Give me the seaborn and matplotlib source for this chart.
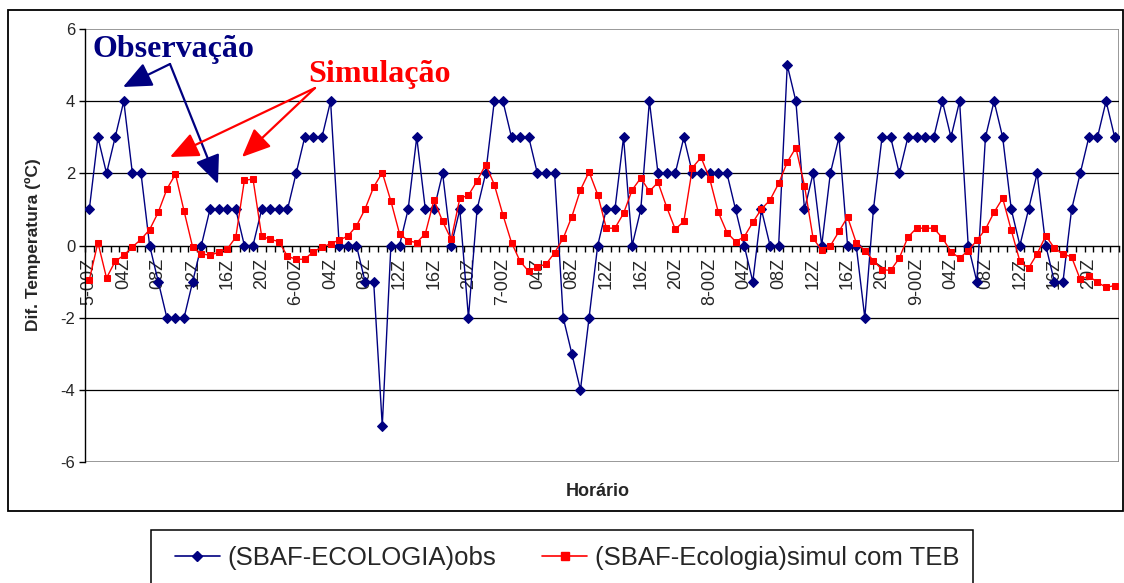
import matplotlib
matplotlib.use('Agg')

import numpy as np
import pandas as pd
import seaborn as sns
import matplotlib.pyplot as plt
from matplotlib.patches import Rectangle
from matplotlib.lines import Line2D

# === Data ===
days = ['5', '6', '7', '8', '9']
label_hours = ['00', '04', '08', '12', '16', '20']

obs = [1, 3, 2, 3, 4, 2, 2, 0, -1, -2, -2, -2, -1, 0, 1, 1, 1, 1, 0, 0, 1, 1, 1, 1,
       2, 3, 3, 3, 4, 0, 0, 0, -1, -1, -5, 0, 0, 1, 3, 1, 1, 2, 0, 1, -2, 1, 2, 4,
       4, 3, 3, 3, 2, 2, 2, -2, -3, -4, -2, 0, 1, 1, 3, 0, 1, 4, 2, 2, 2, 3, 2, 2,
       2, 2, 2, 1, 0, -1, 1, 0, 0, 5, 4, 1, 2, 0, 2, 3, 0, 0, -2, 1, 3, 3, 2, 3,
       3, 3, 3, 4, 3, 4, 0, -1, 3, 4, 3, 1, 0, 1, 2, 0, -1, -1, 1, 2, 3, 3, 4, 3]

sim = [-0.95, 0.08, -0.90, -0.44, -0.27, -0.04, 0.17, 0.44, 0.92, 1.56, 1.98, 0.95,
       -0.05, -0.23, -0.27, -0.19, -0.10, 0.23, 1.81, 1.84, 0.26, 0.17, 0.11, -0.30,
       -0.38, -0.38, -0.17, -0.05, 0.05, 0.15, 0.26, 0.54, 1.01, 1.62, 2.02, 1.23,
       0.33, 0.13, 0.08, 0.33, 1.26, 0.67, 0.17, 1.31, 1.39, 1.79, 2.24, 1.69,
       0.85, 0.08, -0.44, -0.72, -0.59, -0.52, -0.20, 0.20, 0.80, 1.54, 2.04, 1.41,
       0.48, 0.48, 0.89, 1.54, 1.87, 1.50, 1.75, 1.07, 0.45, 0.67, 2.16, 2.44,
       1.85, 0.92, 0.36, 0.11, 0.24, 0.64, 1.01, 1.26, 1.72, 2.31, 2.71, 1.66,
       0.20, -0.13, -0.01, 0.39, 0.79, 0.08, -0.14, -0.42, -0.67, -0.69, -0.35, 0.23,
       0.48, 0.48, 0.48, 0.21, -0.17, -0.35, -0.14, 0.14, 0.45, 0.92, 1.31, 0.42,
       -0.44, -0.63, -0.23, 0.27, -0.07, -0.23, -0.32, -0.94, -0.85, -1.02, -1.16, -1.11]

tick_labels = []
for d in days:
    for h in label_hours:
        tick_labels.append(f'{d}-00Z' if h == '00' else f'{h}Z')

n = len(obs)
x = np.arange(n) + 0.5
df = pd.DataFrame({'x': x, 'obs': obs, 'sim': sim})

NAVY = '#000080'
RED = '#FF0000'
W, H = 1124, 583


def fp(px, py):
    # pixel position (from top-left) -> figure fraction
    return (px / W, 1 - py / H)


sns.set_style('white')
plt.rcParams['font.family'] = ['Liberation Sans', 'DejaVu Sans']

fig = plt.figure(figsize=(W / 100, H / 100), dpi=100)
ax = fig.add_axes([85 / W, 1 - 462 / H, (1119 - 85) / W, (462 - 29) / H])

# outer chart frame and legend box
fig.patches.append(Rectangle(fp(8, 511), (1123 - 8) / W, (511 - 10) / H,
                             transform=fig.transFigure, fill=False,
                             edgecolor='black', linewidth=1.3))
fig.patches.append(Rectangle(fp(151, 590), (973 - 151) / W, (590 - 530) / H,
                             transform=fig.transFigure, fill=False,
                             edgecolor='black', linewidth=1.1))

# gridlines
for yv in [-4, -2, 2, 4]:
    ax.axhline(yv, color='black', linewidth=0.9, zorder=1)
ax.add_patch(Rectangle((0, 0), 1, 1, transform=ax.transAxes, fill=False,
                       edgecolor='#888888', linewidth=1.2, zorder=0.5))

sns.lineplot(data=df, x='x', y='obs', ax=ax, color=NAVY, linewidth=1.0,
             marker='D', markersize=5, markeredgecolor=NAVY, zorder=3)
sns.lineplot(data=df, x='x', y='sim', ax=ax, color=RED, linewidth=1.0,
             marker='s', markersize=5, markeredgecolor=RED, zorder=3)

ax.set_xlim(0, n)
ax.set_ylim(-6, 6)
ax.set_xlabel('')
ax.set_ylabel('')

for s in ['top', 'right']:
    ax.spines[s].set_visible(False)
ax.spines['left'].set_color('black')
ax.spines['left'].set_linewidth(1.0)
ax.spines['bottom'].set_position(('data', 0))
ax.spines['bottom'].set_color('black')
ax.spines['bottom'].set_linewidth(1.0)

ax.set_yticks([-6, -4, -2, 0, 2, 4, 6])
ax.set_yticklabels(['-6', '-4', '-2', '0', '2', '4', '6'])
ax.tick_params(axis='y', direction='out', length=4, width=1, labelsize=12,
               pad=3, left=True, color='black')

ax.set_xticks(np.arange(0, n, 4) + 0.5)
ax.set_xticklabels(tick_labels, rotation=90)
ax.set_xticks(np.arange(0, n + 1), minor=True)
ax.tick_params(axis='x', which='major', length=0, pad=9, labelsize=13)
ax.tick_params(axis='x', which='minor', direction='out', length=4, width=1,
               bottom=True, color='black')

fig.text(*fp(33, 245), 'Dif. Temperatura (ºC)', rotation=90, ha='center',
         va='center', fontsize=12.5, fontweight='bold')
fig.text(*fp(598, 492), 'Horário', ha='center', va='center', fontsize=13,
         fontweight='bold')

# annotations with arrows
fig.text(*fp(173, 57), 'Observação', ha='center', va='baseline', color=NAVY,
         fontsize=23, fontweight='bold', family='Liberation Serif')
fig.text(*fp(380, 82), 'Simulação', ha='center', va='baseline', color=RED,
         fontsize=23, fontweight='bold', family='Liberation Serif')

arrows = [((170, 64), (123, 87), NAVY), ((170, 64), (218, 184), NAVY),
          ((315, 88), (170, 157), RED), ((315, 88), (242, 157), RED)]
for start, tip, c in arrows:
    ax.annotate('', xy=fp(*tip), xytext=fp(*start), xycoords='figure fraction',
                textcoords='figure fraction',
                arrowprops=dict(arrowstyle='-|>,head_length=0.8,head_width=0.35',
                                color=c, lw=1.6, mutation_scale=22,
                                shrinkA=0, shrinkB=0))

handles = [Line2D([], [], color=NAVY, marker='D', markersize=5.5, lw=1.2),
           Line2D([], [], color=RED, marker='s', markersize=5.5, lw=1.2)]
fig.legend(handles, ['(SBAF-ECOLOGIA)obs', '(SBAF-Ecologia)simul com TEB'],
           loc='center', bbox_to_anchor=fp(567, 558), ncol=2, frameon=False,
           fontsize=18.5, handlelength=1.75, handletextpad=0.3,
           columnspacing=1.8)

fig.savefig('out.png', dpi=100)
